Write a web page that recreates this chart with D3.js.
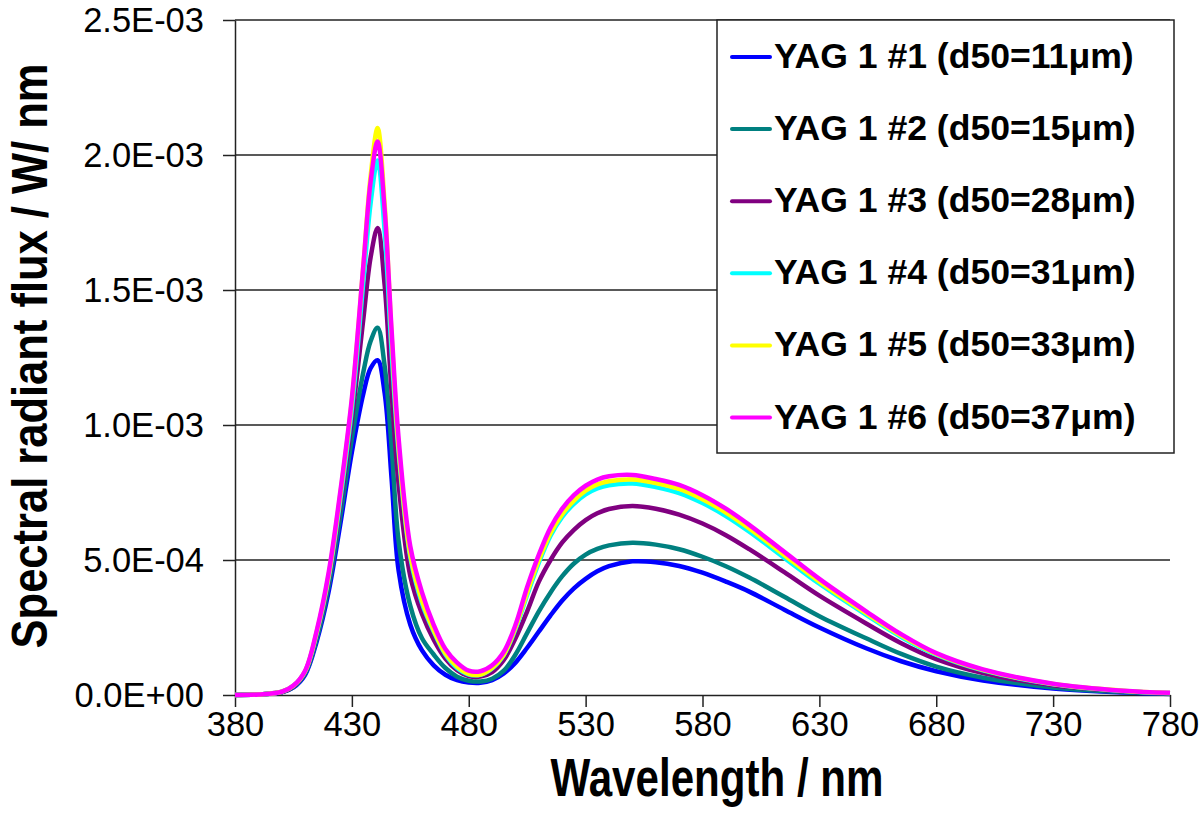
<!DOCTYPE html>
<html><head><meta charset="utf-8">
<script src="https://cdn.jsdelivr.net/npm/d3@7"></script>
<style>body{margin:0;background:#fff}svg{display:block}text{font-family:"Liberation Sans",Arial,sans-serif}</style>
</head><body><svg id="c" width="1200" height="827"></svg>
<script>
const wavelengths = [380,390,400,405,410,415,420,425,430,435,438,441,444,447,450,455,460,465,470,475,480,485,490,495,500,505,510,515,520,525,530,535,540,550,560,570,580,590,600,615,630,650,665,680,700,730,760,780];
// values in 1E-03 W/nm
const yag1 = [0,0.002,0.010,0.028,0.075,0.20,0.38,0.63,0.90,1.12,1.21,1.24,1.12,0.80,0.46,0.26,0.165,0.11,0.075,0.055,0.046,0.045,0.055,0.08,0.12,0.175,0.235,0.295,0.35,0.395,0.43,0.458,0.477,0.495,0.492,0.478,0.453,0.42,0.383,0.316,0.25,0.173,0.125,0.088,0.054,0.024,0.009,0.004];
const yag2 = [0,0.002,0.011,0.030,0.080,0.21,0.40,0.66,0.95,1.20,1.31,1.36,1.22,0.92,0.57,0.33,0.21,0.15,0.10,0.068,0.053,0.050,0.060,0.09,0.15,0.23,0.31,0.38,0.44,0.487,0.52,0.541,0.554,0.564,0.557,0.54,0.512,0.477,0.435,0.364,0.292,0.21,0.152,0.105,0.064,0.028,0.011,0.005];
const yag3 = [0,0.002,0.011,0.032,0.085,0.225,0.42,0.70,1.02,1.40,1.62,1.73,1.52,1.12,0.78,0.44,0.30,0.205,0.135,0.092,0.070,0.068,0.085,0.13,0.21,0.31,0.42,0.50,0.565,0.612,0.648,0.673,0.689,0.70,0.69,0.668,0.635,0.592,0.54,0.455,0.368,0.265,0.192,0.133,0.081,0.036,0.014,0.006];
const yag4 = [0,0.002,0.012,0.034,0.087,0.23,0.43,0.72,1.06,1.54,1.82,1.98,1.72,1.27,0.90,0.51,0.34,0.235,0.15,0.10,0.076,0.075,0.098,0.148,0.245,0.37,0.49,0.59,0.66,0.708,0.743,0.765,0.777,0.783,0.770,0.748,0.711,0.663,0.605,0.508,0.412,0.297,0.215,0.149,0.091,0.040,0.015,0.007];
const yag5 = [0,0.002,0.012,0.034,0.088,0.235,0.44,0.74,1.09,1.60,1.92,2.10,1.82,1.33,0.92,0.52,0.35,0.24,0.155,0.105,0.078,0.076,0.10,0.15,0.25,0.38,0.50,0.60,0.67,0.72,0.757,0.780,0.792,0.798,0.785,0.763,0.725,0.676,0.617,0.518,0.42,0.303,0.22,0.152,0.093,0.041,0.016,0.007];
const yag6 = [0,0.002,0.012,0.035,0.09,0.24,0.45,0.75,1.10,1.60,1.90,2.05,1.80,1.35,0.95,0.55,0.38,0.26,0.17,0.12,0.09,0.088,0.11,0.16,0.26,0.40,0.52,0.62,0.69,0.74,0.775,0.798,0.810,0.815,0.80,0.778,0.74,0.69,0.63,0.53,0.43,0.31,0.225,0.155,0.095,0.042,0.016,0.008];
const seriesNames = ["YAG 1 #1 (d50=11μm)","YAG 1 #2 (d50=15μm)","YAG 1 #3 (d50=28μm)","YAG 1 #4 (d50=31μm)","YAG 1 #5 (d50=33μm)","YAG 1 #6 (d50=37μm)"];
const seriesColors = ["#0000ff","#008080","#800080","#00ffff","#ffff00","#ff00ff"];
const seriesValues = [yag1,yag2,yag3,yag4,yag5,yag6];
const xTicks = [380,430,480,530,580,630,680,730,780];
const yTicks = [0,0.5e-3,1.0e-3,1.5e-3,2.0e-3,2.5e-3];
const yTickLabels = ["0.0E+00","5.0E-04","1.0E-03","1.5E-03","2.0E-03","2.5E-03"];

const svg = d3.select("#c");
const L=235,R=1170,T=20,B=695;
const x = d3.scaleLinear().domain([380,780]).range([L,R]);
const y = d3.scaleLinear().domain([0,2.5e-3]).range([B,T]);
const ax="#222";
const ff='"Liberation Sans",Arial,sans-serif';

// gridlines
svg.append("g").selectAll("line").data(yTicks.slice(1)).join("line")
  .attr("x1",L).attr("x2",R).attr("y1",d=>y(d)).attr("y2",d=>y(d))
  .attr("stroke",ax).attr("stroke-width",1.5);

// y axis
const yAxis = d3.axisLeft(y).tickValues(yTicks).tickSize(12).tickSizeOuter(0)
  .tickFormat((d,i)=>yTickLabels[i]);
const gy = svg.append("g").attr("transform",`translate(${L},0)`).call(yAxis);
gy.select(".domain").attr("stroke",ax).attr("stroke-width",1.5);
gy.selectAll(".tick line").attr("stroke",ax).attr("stroke-width",1.5);
gy.selectAll(".tick text").attr("x",-31).attr("dy","0.34em").attr("font-size",34.5).attr("fill","#000")
  .style("font-family",ff);

// x axis
const xAxis = d3.axisBottom(x).tickValues(xTicks).tickSize(12).tickSizeOuter(0).tickFormat(d3.format("d"));
const gx = svg.append("g").attr("transform",`translate(0,${B})`).call(xAxis);
gx.select(".domain").attr("stroke",ax).attr("stroke-width",1.5);
gx.selectAll(".tick line").attr("stroke",ax).attr("stroke-width",1.5);
gx.selectAll(".tick text").attr("y",41).attr("dy",0).attr("font-size",34.5).attr("fill","#000")
  .style("font-family",ff);

// curves
const line = d3.line().x(d=>x(d[0])).y(d=>y(d[1]*1e-3)).curve(d3.curveCatmullRom.alpha(0.5));
seriesValues.forEach((vals,i)=>{
  svg.append("path").datum(wavelengths.map((w,j)=>[w,vals[j]]))
    .attr("d",line).attr("fill","none").attr("stroke",seriesColors[i])
    .attr("stroke-width",4.5).attr("stroke-linejoin","round");
});

// axis titles
svg.append("text").attr("transform","translate(717,796) scale(0.78,1)")
  .attr("text-anchor","middle").attr("font-size",54).attr("font-weight","bold").text("Wavelength / nm");
svg.append("text").attr("transform","translate(47,356) rotate(-90) scale(0.87,1)")
  .attr("text-anchor","middle").attr("font-size",50).attr("font-weight","bold").text("Spectral radiant flux / W/ nm");

// legend
const lg = svg.append("g");
lg.append("rect").attr("x",717).attr("y",20).attr("width",457).attr("height",433)
  .attr("fill","#fff").attr("stroke",ax).attr("stroke-width",1.5);
seriesNames.forEach((n,i)=>{
  const by = 68 + i*72.1;
  lg.append("line").attr("x1",732).attr("x2",770).attr("y1",by-11).attr("y2",by-11)
    .attr("stroke",seriesColors[i]).attr("stroke-width",4).attr("stroke-linecap","round");
  lg.append("text").attr("x",774).attr("y",by).attr("font-size",35.6).attr("font-weight","bold").text(n);
});
</script></body></html>
